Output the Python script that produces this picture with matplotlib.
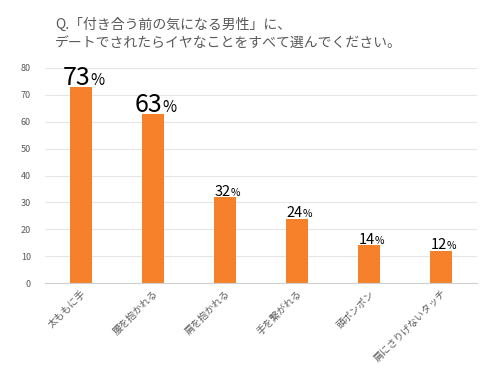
import matplotlib.pyplot as plt
import numpy as np

plt.rcParams['font.family'] = ['Noto Sans CJK JP', 'DejaVu Sans']

# data
categories = ['太ももに手', '腰を抱かれる', '肩を抱かれる', '手を繋がれる', '頭ポンポン', '肩にさりげないタッチ']
values = [73, 63, 32, 24, 14, 12]
big_label = [True, True, False, False, False, False]

title = 'Q.「付き合う前の気になる男性」に、\nデートでされたらイヤなことをすべて選んでください。'

bar_color = '#F7812A'
grid_color = '#E6E6E6'
text_gray = '#595959'

fig = plt.figure(figsize=(5, 3.75), dpi=100)
ax = fig.add_axes([0.09, 0.2453, 0.864, 0.5734])

x = np.arange(len(categories))
ax.bar(x, values, width=0.31, color=bar_color, zorder=2)

ax.set_ylim(0, 80)
ax.set_xlim(-0.5, len(categories) - 0.5)
ax.set_yticks(range(0, 81, 10))
ax.yaxis.grid(True, color=grid_color, linewidth=0.8, zorder=0)
for s in ['top', 'right', 'left']:
    ax.spines[s].set_visible(False)
ax.spines['bottom'].set_color('#D0D0D0')
ax.tick_params(axis='both', length=0, colors=text_gray, labelsize=6.5)
ax.tick_params(axis='y', pad=10)
ax.set_xticks(x)
ax.set_xticklabels(categories, rotation=45, ha='right', rotation_mode='anchor', fontsize=7)

# value labels: number large, % smaller
for xi, v, big in zip(x, values, big_label):
    nsize, psize = (18, 11) if big else (10.5, 7.5)
    dx = 7 if big else 4
    ax.annotate(str(v), (xi, v), xytext=(dx, 1), textcoords='offset points',
                ha='right', va='baseline', fontsize=nsize, color='black')
    ax.annotate('%', (xi, v), xytext=(dx, 1), textcoords='offset points',
                ha='left', va='baseline', fontsize=psize, color='black')

fig.text(0.11, 0.91, title, fontsize=10, color=text_gray, va='center', linespacing=1.35)

fig.savefig('out.png', dpi=100)
